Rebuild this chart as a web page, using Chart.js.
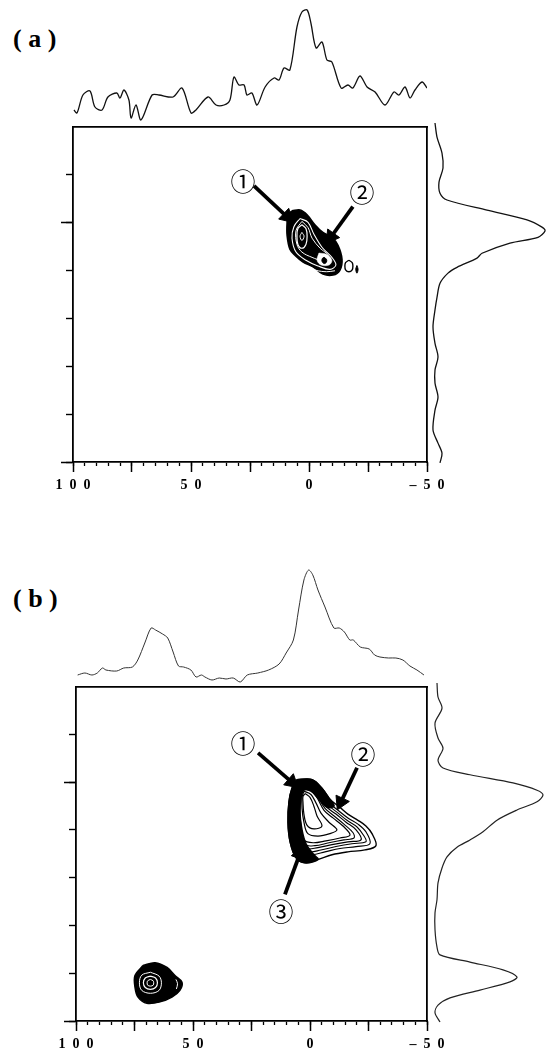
<!DOCTYPE html>
<html>
<head>
<title>2D spectra (a) and (b)</title>
<script src="https://cdn.jsdelivr.net/npm/chart.js"></script>
<style>
  body { margin: 0; background: #fff; }
  #page { position: relative; width: 555px; height: 1055px; overflow: hidden; background: #fff; }
  canvas { position: absolute; }
  .panel { position: absolute; left: 13px; font: bold 26px "Liberation Serif", serif; line-height: 1; white-space: pre; }
</style>
</head>
<body>
<div id="page">
  <div class="panel" style="top:26px">( a )</div>
  <div class="panel" style="top:586px">( b )</div>
  <canvas id="topA" width="354" height="125" style="left:73px;top:0px"></canvas>
  <canvas id="sideA" width="128" height="354" style="left:427px;top:118px"></canvas>
  <canvas id="mainA" width="402" height="385" style="left:49px;top:117px"></canvas>
  <canvas id="topB" width="351" height="125" style="left:76px;top:560px"></canvas>
  <canvas id="sideB" width="128" height="353" style="left:427px;top:678px"></canvas>
  <canvas id="mainB" width="399" height="384" style="left:52px;top:677px"></canvas>
</div>
<script>
// ---- projections, panel (a) ----
const topAShift = [99.6, 98.3, 95.8, 92.8, 90.7, 87.7, 85.2, 81.4, 80.1, 78.4, 76.3, 75.4, 73.3, 71.2, 66.5, 63.6, 57.6, 53.8, 50.0, 47.9,
  42.8, 39.4, 36.0, 33.5, 31.8, 29.7, 27.5, 26.3, 24.2, 22.0, 18.6, 14.8, 12.7, 10.6, 8.1, 5.1, 3.0, 0.8, -0.8, -3.0,
  -5.5, -7.6, -9.7, -13.6, -16.5, -18.6, -21.6, -24.6, -28.0, -32.2, -36.0, -38.1, -40.7, -42.8, -44.9, -47.9, -50.0];
const topAInt = [15, 12, 30, 34, 18, 15, 28, 32, 27, 35, 25, 7, 20, 5, 30, 30, 28, 37, 12, 15,
  28, 20, 20, 25, 48, 40, 40, 30, 32, 20, 38, 47, 45, 57, 55, 98, 113, 115, 102, 77,
  83, 65, 63, 37, 40, 37, 49, 38, 33, 20, 33, 30, 38, 27, 35, 43, 37];
const sideAPos = [0, 2.9, 6.2, 9.3, 12.2, 14.5, 15.9, 18.0, 20.0, 21.5, 22.3, 23.6, 24.8, 26.9, 27.9, 29.8,
  31.0, 33.1, 36.0, 38.6, 42.1, 45.5, 48.3, 51.0, 53.7, 56.6, 59.3, 63.4, 66.1, 68.2, 70.2];
const sideAInt = [8, 10, 15, 16, 12, 13, 20, 60, 100, 115, 118, 111, 83, 55, 50, 30,
  21, 13, 10, 8, 6, 8, 11, 8, 8, 11, 8, 6, 11, 15, 13];

// ---- projections, panel (b) ----
const topBShift = [99.3, 96.2, 93.2, 90.9, 88.7, 87.2, 82.6, 79.6, 75.9, 73.6, 70.6, 67.9, 66.0, 63.0, 60.8, 58.5, 56.2, 54.0,
  50.9, 48.7, 46.4, 44.9, 41.9, 38.8, 35.9, 32.8, 29.8, 26.8, 22.3, 17.7, 13.2, 10.2, 7.1, 4.9, 2.6, 0.6,
  -1.2, -3.4, -6.4, -10.2, -12.5, -14.7, -17.0, -18.5, -21.5, -25.3, -27.6, -29.9, -33.6, -36.7, -39.7, -42.7, -45.7, -48.7];
const topBInt = [10, 12, 10, 12, 17, 15, 14, 17, 18, 25, 42, 57, 55, 51, 47, 33, 19, 18,
  15, 8, 10, 8, 5, 7, 6, 7, 3, 10, 12, 15, 21, 32, 45, 75, 105, 115,
  110, 95, 78, 57, 57, 53, 45, 45, 38, 36, 30, 28, 27, 27, 25, 19, 15, 10];
const sideBPos = [0, 2.9, 5.2, 8.3, 11.4, 13.5, 16.0, 17.6, 19.0, 20.7, 22.2, 23.2, 24.6, 26.3, 28.4, 30.8, 32.5, 34.0,
  36.0, 38.3, 41.4, 44.9, 47.6, 51.1, 54.7, 56.3, 57.8, 59.4, 60.9, 61.9, 63.6, 65.2, 66.7, 68.3, 70.2];
const sideBInt = [10, 11, 15, 8, 11, 16, 11, 16, 43, 86, 110, 116, 110, 90, 70, 56, 43, 30,
  20, 15, 11, 10, 8, 8, 10, 13, 43, 76, 90, 83, 53, 23, 11, 8, 13];

// ---- axes ----
const xTickValues = [100, 50, 0, -50];
const xTickLabels = ['1  0  0', '5  0', '0', '–  5  0'];
const yMajorTicks = [20, 70];

// ---- contours (ppm, F1) panel (a) ----
const peakA = [[7.2, 17.6], [3.8, 17.4], [0.8, 18.4], [-2.5, 20.5], [-5.9, 22.1], [-9.7, 23.1], [-12.3, 24.8], [-14.0, 27.7],
  [-13.1, 30.0], [-10.2, 31.0], [-5.9, 30.8], [-1.7, 29.3], [2.5, 28.3], [5.9, 26.9], [8.1, 25.6], [9.3, 22.7], [9.3, 20.0], [8.9, 18.4], [7.2, 17.6]];
const ringA2 = [[3.8, 19.2], [0.4, 20.0], [-2.1, 22.5], [-5.5, 25.2], [-9.7, 27.3], [-11.4, 28.9], [-8.9, 29.8], [-3.8, 29.1],
  [1.3, 27.9], [5.5, 26.2], [7.2, 23.3], [6.4, 20.9], [3.8, 19.2]];
const ringA3 = [[3.0, 19.8], [0.4, 21.1], [-1.3, 23.3], [-4.7, 25.4], [-8.1, 26.9], [-5.5, 27.9], [-1.3, 27.3], [3.0, 26.2],
  [5.1, 24.6], [5.5, 21.7], [3.0, 19.8]];
const ringA1 = [[3.0, 20.5], [1.3, 21.3], [0.8, 22.9], [1.3, 24.6], [3.0, 25.4], [4.7, 24.6], [5.1, 22.9], [4.7, 21.3], [3.0, 20.5]];
const ringA0 = [[3.0, 22.1], [2.1, 22.9], [3.0, 23.8], [3.8, 22.9], [3.0, 22.1]];
const tailA = [[1.5, 29.0], [-3.0, 30.0], [-7.5, 30.3], [-11.0, 30.1]];
const patchA = [[-4.2, 26.4], [-7.6, 26.7], [-9.7, 27.9], [-8.5, 28.9], [-5.1, 28.9], [-3.4, 27.9], [-4.2, 26.4]];
const spotA = [[-6.4, 27.3], [-7.4, 27.7], [-7.4, 28.3], [-6.4, 28.6], [-5.5, 28.1], [-5.7, 27.5], [-6.4, 27.3]];
const satA = [[-16.9, 27.9], [-15.5, 28.4], [-15.2, 29.1], [-15.5, 29.9], [-16.9, 30.3], [-18.3, 29.9], [-18.6, 29.1], [-18.3, 28.4], [-16.9, 27.9]];
const dotA = [[-20.3, 29.0], [-20.8, 29.8], [-20.3, 30.6], [-19.8, 29.8], [-20.3, 29.0]];
const arrowsA = [[23.3, 12.4, 9.4, 18.8], [-18.6, 16.7, -9.4, 23.0]];
const labelsA = [['①', 28.0, 11.4], ['②', -22.5, 13.8]];

// ---- contours (ppm, F1) panel (b) ----
const bandB = [[5.6, 19.5], [-0.9, 19.5], [-5.1, 21.3], [-8.5, 23.6], [-10.3, 25.0], [-7.3, 25.3], [-3.8, 23.6], [-0.4, 21.9], [2.6, 21.7],
  [3.8, 23.2], [4.3, 26.3], [3.4, 30.0], [1.7, 32.9], [-1.3, 35.0], [-3.4, 36.2], [2.1, 36.9], [6.0, 35.8], [8.5, 32.5],
  [9.4, 28.4], [9.0, 24.2], [7.7, 21.3], [5.6, 19.5]];
const loopB0 = [[5.6, 19.5], [-0.9, 19.5], [-5.1, 21.3], [-8.5, 23.6], [-12.8, 25.3], [-16.2, 26.7], [-20.5, 28.0], [-23.9, 29.2],
  [-26.5, 30.8], [-28.2, 33.3], [-23.5, 34.2], [-16.2, 34.6], [-9.4, 35.2], [-3.4, 36.2], [2.1, 36.9], [6.0, 35.8],
  [8.5, 32.5], [9.4, 28.4], [9.0, 24.2], [7.7, 21.3], [5.6, 19.5]];
const loopB1 = [[4.3, 20.3], [-0.9, 20.3], [-4.3, 21.9], [-7.7, 24.2], [-12.0, 25.9], [-16.2, 27.5], [-20.5, 28.8], [-23.9, 30.4],
  [-25.6, 32.9], [-19.7, 33.5], [-12.8, 33.9], [-6.4, 34.6], [-0.9, 35.2], [3.4, 35.0], [6.4, 32.5], [7.3, 28.4],
  [6.8, 24.2], [6.0, 21.7], [4.3, 20.3]];
const loopB1b = [[3.8, 20.5], [-0.9, 20.7], [-4.3, 22.4], [-7.3, 24.6], [-11.5, 26.3], [-15.8, 28.0], [-20.1, 29.4], [-23.1, 31.3],
  [-23.9, 32.5], [-17.9, 32.9], [-11.1, 33.5], [-4.7, 34.2], [0.4, 34.6], [4.3, 33.3], [6.4, 30.0], [6.4, 25.5], [5.6, 22.6], [3.8, 20.5]];
const loopB2 = [[3.4, 20.9], [-0.9, 21.1], [-3.8, 22.8], [-6.8, 25.1], [-11.1, 26.7], [-15.4, 28.4], [-19.7, 30.0], [-21.8, 32.1],
  [-16.2, 32.5], [-9.4, 33.1], [-3.4, 33.7], [1.7, 33.9], [4.7, 31.7], [5.6, 28.0], [5.1, 24.2], [4.7, 22.2], [3.4, 20.9]];
const loopB2b = [[3.0, 21.3], [-0.9, 21.5], [-3.4, 23.2], [-6.4, 25.5], [-10.3, 27.1], [-14.5, 28.8], [-18.4, 30.6], [-18.8, 31.7],
  [-14.5, 32.1], [-8.1, 32.7], [-2.1, 33.3], [2.1, 33.1], [4.3, 30.4], [4.7, 26.7], [4.3, 23.6], [3.0, 21.3]];
const loopB3 = [[3.0, 21.5], [-0.9, 21.9], [-3.4, 23.6], [-6.0, 25.9], [-9.8, 27.5], [-14.1, 29.2], [-17.1, 31.1], [-12.8, 31.7],
  [-6.8, 32.3], [-1.3, 32.7], [2.6, 32.1], [3.8, 29.2], [4.3, 25.9], [3.8, 23.0], [3.0, 21.5]];
const loopB4 = [[2.6, 21.9], [-0.4, 22.6], [-2.6, 24.4], [-4.7, 26.5], [-8.1, 28.4], [-11.5, 30.0], [-8.5, 30.8], [-3.4, 31.3],
  [0.9, 30.8], [2.6, 28.4], [3.4, 25.5], [3.4, 23.2], [2.6, 21.9]];
const loopB5 = [[2.1, 22.4], [0.0, 23.2], [-1.7, 25.1], [-3.0, 27.1], [-5.1, 29.2], [-1.7, 29.8], [1.3, 29.0], [2.6, 26.7],
  [3.0, 24.2], [3.0, 23.0], [2.1, 22.4]];
const peakB2 = [[71.4, 58.4], [66.2, 57.8], [61.1, 58.8], [57.7, 60.5], [54.7, 61.9], [55.6, 63.6], [59.0, 65.0], [64.1, 66.0],
  [69.7, 66.3], [73.5, 65.0], [74.8, 62.9], [74.8, 60.5], [71.4, 58.4]];
const ringB22 = [[68.2, 59.8], [64.5, 60.6], [63.5, 62.0], [64.5, 63.6], [68.2, 64.2], [71.9, 63.6], [72.9, 62.0], [71.9, 60.4], [68.2, 59.8]];
const ringB21 = [[68.2, 60.6], [66.0, 61.0], [65.2, 62.0], [66.0, 63.0], [68.2, 63.4], [70.4, 63.0], [71.2, 62.0], [70.4, 61.0], [68.2, 60.6]];
const ringB20 = [[68.2, 61.3], [67.0, 61.6], [66.8, 62.0], [67.0, 62.5], [68.2, 62.7], [69.4, 62.5], [69.6, 62.0], [69.4, 61.6], [68.2, 61.3]];
const arcB21 = [[57.3, 61.3], [56.6, 62.2], [57.1, 63.3]];
const arrowsB = [[22.2, 13.9, 7.8, 20.0], [-20.1, 17.0, -13.2, 24.2], [10.7, 43.5, 4.4, 35.1]];
const labelsB = [['①', 28.6, 12.0], ['②', -22.6, 14.3], ['③', 12.4, 47.0]];

const BLACK = '#000';
const WHITE = '#fff';

const toXY = arr => arr.map(([x, y]) => ({x, y}));

function shape(points, fillColor, lineColor, width) {
  return {
    data: toXY(points), showLine: true, tension: 0.35,
    fill: fillColor ? 'shape' : false,
    backgroundColor: fillColor || 'transparent',
    borderColor: lineColor, borderWidth: width, pointRadius: 0
  };
}

function headAngle(chart, a) {
  const xs = chart.scales.x, ys = chart.scales.y;
  const dx = xs.getPixelForValue(a[2]) - xs.getPixelForValue(a[0]);
  const dy = ys.getPixelForValue(a[3]) - ys.getPixelForValue(a[1]);
  return Math.atan2(dx, -dy) * 180 / Math.PI;
}

function arrow(a) {
  return {
    data: [{x: a[0], y: a[1]}, {x: a[2], y: a[3]}],
    showLine: true, tension: 0, borderColor: BLACK, borderWidth: 3.8,
    pointStyle: 'triangle',
    pointRadius: c => c.dataIndex === 1 ? 8.5 : 0,
    pointBackgroundColor: BLACK, pointBorderColor: BLACK, pointBorderWidth: 1,
    pointRotation: c => headAngle(c.chart, a)
  };
}

// circled numbers placed at data positions
const callouts = {
  id: 'callouts',
  afterDatasetsDraw(chart, args, opts) {
    const {ctx} = chart;
    const xs = chart.scales.x, ys = chart.scales.y;
    ctx.save();
    ctx.font = '25px "Noto Sans CJK JP"';
    ctx.fillStyle = BLACK;
    ctx.textAlign = 'center';
    ctx.textBaseline = 'middle';
    (opts.items || []).forEach(([t, x, y]) => ctx.fillText(t, xs.getPixelForValue(x), ys.getPixelForValue(y)));
    ctx.restore();
  }
};

function mainChart(id, sets, labels) {
  const frame = {display: true, color: BLACK, width: 1.8};
  new Chart(document.getElementById(id), {
    type: 'scatter',
    data: {datasets: sets.map((d, i) => Object.assign({order: -i}, d))},
    options: {
      responsive: false, animation: false, devicePixelRatio: 1, events: [],
      layout: {padding: {left: 10, right: 24, top: 6, bottom: 0}},
      elements: {point: {radius: 0}},
      plugins: {legend: {display: false}, tooltip: {enabled: false}, callouts: {items: labels}},
      scales: {
        x: {
          type: 'linear', position: 'bottom', min: -50, max: 100, reverse: true,
          border: frame,
          grid: {drawOnChartArea: false, tickLength: 4, tickWidth: 1.3, tickColor: BLACK},
          ticks: {
            stepSize: 5, autoSkip: false, maxRotation: 0, padding: 11, color: BLACK,
            font: {family: 'Liberation Serif', size: 14, weight: 'bold'},
            callback: v => { const k = xTickValues.indexOf(v); return k < 0 ? '' : xTickLabels[k]; }
          },
          afterFit: s => { s.height = 40; s.paddingLeft = 0; s.paddingRight = 0; }
        },
        xMajor: {
          axis: 'x', type: 'linear', position: {y: 70}, min: -50, max: 100, reverse: true,
          border: {display: false},
          grid: {drawOnChartArea: false, tickLength: 10, tickWidth: 1.5, tickColor: BLACK},
          ticks: {stepSize: 25, display: false}
        },
        xTop: {
          axis: 'x', type: 'linear', position: 'top', min: -50, max: 100, reverse: true,
          border: frame, grid: {drawOnChartArea: false, drawTicks: false}, ticks: {display: false},
          afterFit: s => { s.height = 0; }
        },
        y: {
          type: 'linear', position: 'left', min: 0, max: 70, reverse: true,
          border: frame,
          grid: {drawOnChartArea: false, tickLength: 7, tickWidth: 1.4,
                 tickColor: c => c.tick && c.tick.value === 0 ? 'transparent' : BLACK},
          ticks: {stepSize: 10, display: false},
          afterFit: s => { s.width = 14; }
        },
        yMajor: {
          axis: 'y', type: 'linear', position: {x: 100}, min: 0, max: 70, reverse: true,
          border: {display: false},
          grid: {drawOnChartArea: false, tickLength: 12, tickWidth: 1.5, tickColor: BLACK},
          ticks: {display: false},
          afterBuildTicks: s => { s.ticks = yMajorTicks.map(v => ({value: v})); }
        },
        yRight: {
          axis: 'y', type: 'linear', position: 'right', min: 0, max: 70, reverse: true,
          border: frame, grid: {drawOnChartArea: false, drawTicks: false}, ticks: {display: false},
          afterFit: s => { s.width = 0; }
        }
      }
    },
    plugins: [callouts]
  });
}

function topSpectrum(id, shift, inten, color, width) {
  new Chart(document.getElementById(id), {
    type: 'scatter',
    data: {datasets: [{
      data: shift.map((x, i) => ({x, y: inten[i]})),
      showLine: true, tension: 0.3, borderColor: color, borderWidth: width, pointRadius: 0, clip: false
    }]},
    options: {
      responsive: false, animation: false, devicePixelRatio: 1, events: [],
      layout: {padding: 0},
      plugins: {legend: {display: false}, tooltip: {enabled: false}},
      scales: {
        x: {type: 'linear', min: -50, max: 100, reverse: true, display: false},
        y: {type: 'linear', min: 0, max: 125, display: false}
      }
    }
  });
}

function sideSpectrum(id, pos, inten, color, width) {
  new Chart(document.getElementById(id), {
    type: 'scatter',
    data: {datasets: [{
      data: pos.map((y, i) => ({x: inten[i], y})),
      showLine: true, tension: 0.3, borderColor: color, borderWidth: width, pointRadius: 0, clip: false
    }]},
    options: {
      responsive: false, animation: false, devicePixelRatio: 1, events: [],
      layout: {padding: {top: 5, bottom: 10, left: 0, right: 0}},
      plugins: {legend: {display: false}, tooltip: {enabled: false}},
      scales: {
        x: {type: 'linear', min: 0, max: 128, display: false},
        y: {type: 'linear', min: 0, max: 70, reverse: true, display: false}
      }
    }
  });
}

topSpectrum('topA', topAShift, topAInt, '#111', 1.3);
sideSpectrum('sideA', sideAPos, sideAInt, '#111', 1.3);
topSpectrum('topB', topBShift, topBInt, '#333', 1.0);
sideSpectrum('sideB', sideBPos, sideBInt, '#222', 1.2);

mainChart('mainA', [
  shape(peakA, BLACK, BLACK, 1.5),
  shape(ringA2, null, WHITE, 1.1),
  shape(ringA3, null, WHITE, 1.0),
  shape(ringA1, null, WHITE, 1.2),
  shape(ringA0, null, WHITE, 1.0),
  shape(tailA, null, WHITE, 1.0),
  shape(patchA, WHITE, WHITE, 0.5),
  shape(spotA, BLACK, BLACK, 1.0),
  shape(satA, null, BLACK, 1.4),
  shape(dotA, BLACK, BLACK, 1.0),
  ...arrowsA.map(arrow)
], labelsA);

mainChart('mainB', [
  shape(bandB, BLACK, BLACK, 1.5),
  shape(loopB0, null, BLACK, 1.4),
  shape(loopB1, null, BLACK, 1.2),
  shape(loopB1b, null, BLACK, 1.1),
  shape(loopB2, null, BLACK, 1.2),
  shape(loopB2b, null, BLACK, 1.1),
  shape(loopB3, null, BLACK, 1.2),
  shape(loopB4, null, BLACK, 1.2),
  shape(loopB5, null, BLACK, 1.2),
  shape(peakB2, BLACK, BLACK, 1.5),
  shape(ringB22, null, WHITE, 1.0),
  shape(ringB21, null, WHITE, 1.2),
  shape(ringB20, null, WHITE, 1.0),
  shape(arcB21, null, WHITE, 1.0),
  ...arrowsB.map(arrow)
], labelsB);
</script>
</body>
</html>
